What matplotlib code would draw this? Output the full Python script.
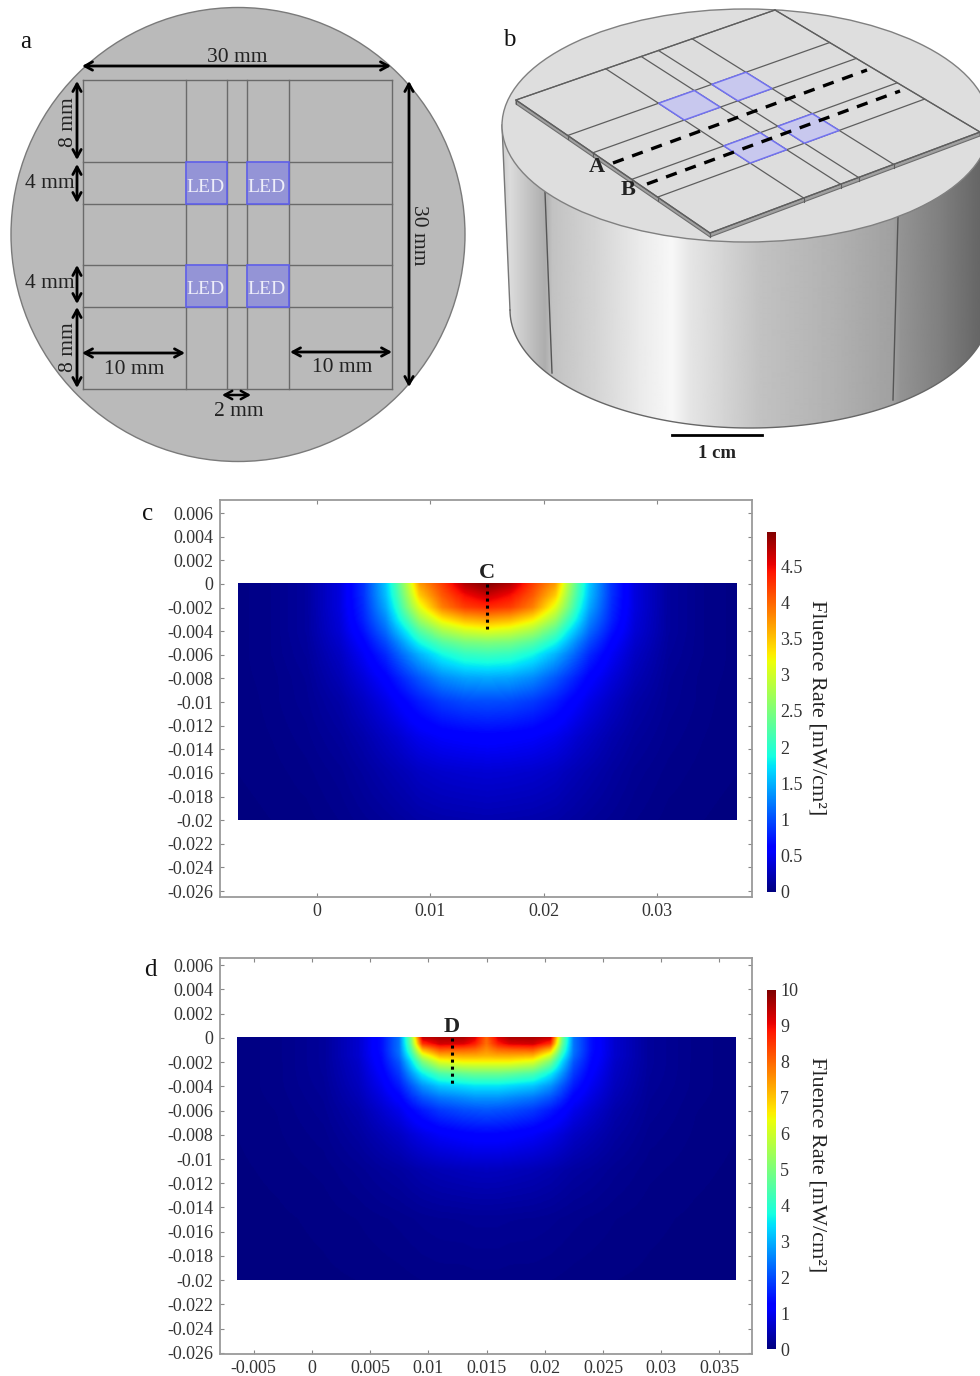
import numpy as np
import matplotlib
matplotlib.use("Agg")
import matplotlib.pyplot as plt
from matplotlib.patches import Circle, Ellipse, Polygon, PathPatch
from matplotlib.path import Path

plt.rcParams['font.family'] = ['Liberation Serif', 'DejaVu Serif']

# plate layout in mm (panel a)
grid_x_mm = [0, 10, 14, 16, 20, 30]
grid_y_mm = [0, 8, 12, 18, 22, 30]
led_x_mm = [(10, 14), (16, 20)]
led_y_mm = [(8, 12), (18, 22)]
# same lines as they fall on the tilted plate of panel b
tilt_u = [0, 10.4, 14.5, 16.5, 20.4, 30]
tilt_v = [0, 8, 11.9, 17.9, 21.9, 30]
tilt_led_u = [(10.4, 14.5), (16.5, 20.4)]
tilt_led_v = [(8, 11.9), (17.9, 21.9)]

# fluence map c, mW/cm2
c_x = [-.007, -.004, -.001, .002, .004, .006, .007, .008, .009, .011, .013, .015,
       .017, .019, .021, .022, .023, .024, .026, .028, .031, .034, .037]
c_depth = [0, -.001, -.002, -.003, -.004, -.005, -.006, -.008, -.010, -.013, -.016, -.020]
c_vals = [
    [.03, .06, .14, .42, .85, 1.6, 2.2, 2.9, 3.7, 4.2, 4.75, 4.95, 4.75, 4.2, 3.7, 2.9, 2.2, 1.6, .85, .42, .14, .06, .03],
    [.03, .06, .14, .42, .85, 1.55, 2.1, 2.75, 3.45, 4.05, 4.45, 4.65, 4.45, 4.05, 3.45, 2.75, 2.1, 1.55, .85, .42, .14, .06, .03],
    [.03, .06, .14, .42, .82, 1.45, 1.95, 2.55, 3.1, 3.85, 4.2, 4.3, 4.2, 3.85, 3.1, 2.55, 1.95, 1.45, .82, .42, .14, .06, .03],
    [.03, .06, .14, .40, .78, 1.3, 1.75, 2.2, 2.7, 3.3, 3.6, 3.7, 3.6, 3.3, 2.7, 2.2, 1.75, 1.3, .78, .40, .14, .06, .03],
    [.03, .06, .14, .38, .70, 1.15, 1.5, 1.85, 2.25, 2.75, 3.0, 3.1, 3.0, 2.75, 2.25, 1.85, 1.5, 1.15, .70, .38, .14, .06, .03],
    [.03, .06, .13, .34, .60, .98, 1.25, 1.55, 1.85, 2.25, 2.45, 2.5, 2.45, 2.25, 1.85, 1.55, 1.25, .98, .60, .34, .13, .06, .03],
    [.03, .06, .12, .30, .52, .82, 1.05, 1.28, 1.5, 1.85, 2.05, 2.1, 2.05, 1.85, 1.5, 1.28, 1.05, .82, .52, .30, .12, .06, .03],
    [.03, .05, .10, .24, .40, .6, .75, .9, 1.05, 1.3, 1.42, 1.45, 1.42, 1.3, 1.05, .9, .75, .6, .40, .24, .10, .05, .03],
    [.02, .05, .09, .18, .3, .45, .55, .65, .75, .9, .98, 1.0, .98, .9, .75, .65, .55, .45, .3, .18, .09, .05, .02],
    [.02, .04, .07, .13, .2, .3, .35, .42, .48, .55, .58, .6, .58, .55, .48, .42, .35, .3, .2, .13, .07, .04, .02],
    [.02, .03, .05, .09, .14, .2, .23, .26, .3, .34, .36, .37, .36, .34, .3, .26, .23, .2, .14, .09, .05, .03, .02],
    [.01, .02, .03, .06, .09, .12, .14, .16, .18, .2, .21, .22, .21, .2, .18, .16, .14, .12, .09, .06, .03, .02, .01],
]

# fluence map d
d_x = [-.0064, -.003, .001, .004, .006, .0075, .0085, .0095, .011, .013, .014, .015,
       .016, .017, .019, .0205, .0215, .0225, .024, .026, .029, .033, .0364]
d_depth = [0, -.0005, -.001, -.0015, -.002, -.003, -.004, -.005, -.006, -.008, -.011, -.015, -.020]
d_vals = [
    [.05, .1, .25, .7, 1.4, 2.4, 5.0, 9.4, 9.6, 9.6, 9.2, 8.0, 9.2, 9.6, 9.6, 9.4, 5.0, 2.4, 1.4, .7, .25, .1, .05],
    [.05, .1, .25, .7, 1.4, 2.4, 4.8, 8.6, 9.3, 9.2, 8.8, 7.9, 8.8, 9.2, 9.3, 8.6, 4.8, 2.4, 1.4, .7, .25, .1, .05],
    [.05, .1, .25, .7, 1.4, 2.4, 4.4, 7.2, 8.2, 8.1, 8.0, 7.6, 8.0, 8.1, 8.2, 7.2, 4.4, 2.4, 1.4, .7, .25, .1, .05],
    [.05, .1, .25, .7, 1.35, 2.3, 3.9, 6.0, 7.2, 7.3, 7.3, 7.2, 7.3, 7.3, 7.2, 6.0, 3.9, 2.3, 1.35, .7, .25, .1, .05],
    [.05, .1, .25, .65, 1.3, 2.1, 3.4, 5.0, 6.2, 6.5, 6.5, 6.5, 6.5, 6.5, 6.2, 5.0, 3.4, 2.1, 1.3, .65, .25, .1, .05],
    [.05, .1, .24, .6, 1.15, 1.8, 2.7, 3.6, 4.4, 4.7, 4.8, 4.8, 4.8, 4.7, 4.4, 3.6, 2.7, 1.8, 1.15, .6, .24, .1, .05],
    [.05, .1, .22, .55, 1.0, 1.5, 2.1, 2.7, 3.2, 3.4, 3.5, 3.5, 3.5, 3.4, 3.2, 2.7, 2.1, 1.5, 1.0, .55, .22, .1, .05],
    [.05, .09, .2, .48, .85, 1.2, 1.65, 2.05, 2.4, 2.6, 2.7, 2.7, 2.7, 2.6, 2.4, 2.05, 1.65, 1.2, .85, .48, .2, .09, .05],
    [.05, .08, .18, .4, .7, .95, 1.25, 1.5, 1.8, 2.0, 2.05, 2.1, 2.05, 2.0, 1.8, 1.5, 1.25, .95, .7, .4, .18, .08, .05],
    [.04, .07, .14, .3, .48, .62, .78, .92, 1.08, 1.2, 1.24, 1.25, 1.24, 1.2, 1.08, .92, .78, .62, .48, .3, .14, .07, .04],
    [.03, .05, .09, .17, .25, .3, .36, .42, .48, .53, .55, .56, .55, .53, .48, .42, .36, .3, .25, .17, .09, .05, .03],
    [.02, .03, .05, .08, .11, .13, .15, .17, .19, .2, .21, .21, .21, .2, .19, .17, .15, .13, .11, .08, .05, .03, .02],
    [.01, .02, .03, .04, .05, .06, .07, .08, .09, .09, .1, .1, .1, .09, .09, .08, .07, .06, .05, .04, .03, .02, .01],
]

y_ticks = [.006, .004, .002, 0, -.002, -.004, -.006, -.008, -.01, -.012, -.014, -.016, -.018, -.02, -.022, -.024, -.026]
y_labels = ['0.006', '0.004', '0.002', '0', '-0.002', '-0.004', '-0.006', '-0.008', '-0.01',
            '-0.012', '-0.014', '-0.016', '-0.018', '-0.02', '-0.022', '-0.024', '-0.026']
c_xticks = [0, .01, .02, .03]
c_xlabels = ['0', '0.01', '0.02', '0.03']
d_xticks = [-.005, 0, .005, .01, .015, .02, .025, .03, .035]
d_xlabels = ['-0.005', '0', '0.005', '0.01', '0.015', '0.02', '0.025', '0.03', '0.035']
c_cbar_ticks = [0, .5, 1, 1.5, 2, 2.5, 3, 3.5, 4, 4.5]
c_cbar_labels = ['0', '0.5', '1', '1.5', '2', '2.5', '3', '3.5', '4', '4.5']
d_cbar_ticks = [0, 1, 2, 3, 4, 5, 6, 7, 8, 9, 10]

# grey level of the cylinder wall across the picture (panel b)
wall_px = [502, 510, 545, 552, 600, 640, 672, 690, 760, 830, 893, 900, 940, 980]
wall_grey = [.80, .86, .68, .76, .84, .92, .97, .90, .76, .70, .63, .58, .50, .40]

W, H = 980, 1376
fig = plt.figure(figsize=(W / 100, H / 100), dpi=100)


def px_axes(x0, y0, x1, y1):
    return fig.add_axes([x0 / W, 1 - y1 / H, (x1 - x0) / W, (y1 - y0) / H])


bg = fig.add_axes([0, 0, 1, 1])
bg.set_xlim(0, W)
bg.set_ylim(H, 0)
bg.axis('off')

TXT = '#222222'

# --- panel a ---
def ax_(mm):
    return 82.5 + 10.3 * mm


def ay_(mm):
    return 80 + 10.3 * mm


bg.add_patch(Circle((238, 234.5), 227, fc='#bababa', ec='#7a7a7a', lw=1))
for m in grid_x_mm:
    bg.plot([ax_(m)] * 2, [ay_(0), ay_(30)], color='#6a6a6a', lw=1, zorder=2)
for m in grid_y_mm:
    bg.plot([ax_(0), ax_(30)], [ay_(m)] * 2, color='#6a6a6a', lw=1, zorder=2)
for xa, xb in led_x_mm:
    for ya, yb in led_y_mm:
        bg.add_patch(Polygon([(ax_(xa), ay_(ya)), (ax_(xb), ay_(ya)), (ax_(xb), ay_(yb)), (ax_(xa), ay_(yb))],
                             fc='#9494d6', ec='#6060ea', lw=1.2, zorder=3))
        bg.text(ax_((xa + xb) / 2) - 1, ay_((ya + yb) / 2) + 4, 'LED', color='#eeeefa', fontsize=14,
                ha='center', va='center', zorder=4)


def arrow(p, q, lw=2.0):
    bg.annotate('', xy=q, xytext=p, zorder=5,
                arrowprops=dict(arrowstyle='<->,head_length=0.55,head_width=0.3', color='black', lw=lw,
                                shrinkA=0, shrinkB=0))


arrow((82, 66), (391, 66))
arrow((409, 81), (409, 387))
arrow((77, 81), (77, 160))
arrow((77, 164), (77, 203))
arrow((77, 265), (77, 304))
arrow((77, 307), (77, 388))
arrow((82, 353), (185, 353))
arrow((290, 352), (392, 352))
arrow((222, 395), (251, 395), lw=1.8)

for (x, y, s, r) in [(237, 58, '30 mm', 0), (418, 235, '30 mm', 270), (68, 122, '8 mm', 90),
                     (50, 183, '4 mm', 0), (50, 284, '4 mm', 0), (68, 347, '8 mm', 90),
                     (134, 370, '10 mm', 0), (342, 368, '10 mm', 0), (239, 411, '2 mm', 0)]:
    bg.text(x, y, s, fontsize=15.5, color=TXT, ha='center', va='center', rotation=r, zorder=6)

# --- panel b ---
wall_x = np.arange(502, 981)
wall = np.interp(wall_x, wall_px, wall_grey)[None, :]
im = bg.imshow(wall, cmap='gray', vmin=0, vmax=1, extent=(502, 981, 440, 100), aspect='auto', zorder=1,
               interpolation='bilinear')
t = np.linspace(np.pi, 0, 120)
rim = [(750 + 240 * np.cos(a), 310 + 118 * np.sin(a)) for a in t]
outline = [(502, 125)] + rim + [(990, 125)]
wall_path = PathPatch(Path(outline + [outline[0]]), fc='none', ec='none', transform=bg.transData)
bg.add_patch(wall_path)
im.set_clip_path(wall_path)
bg.plot([502, 510], [125, 310], color='#777777', lw=1, zorder=2)
bg.plot(*zip(*rim), color='#666666', lw=1, zorder=2)
bg.plot([545, 552], [192, 373], color='#555555', lw=1, zorder=2)
bg.plot([898, 893], [217, 400], color='#555555', lw=1, zorder=2)
bg.add_patch(Ellipse((746, 125.5), 488, 233, fc='#dedede', ec='#808080', lw=1, zorder=3))

# plate corners on the picture: left, top, right, bottom
pL, pT, pR, pB = np.array([516, 100.]), np.array([775, 10.]), np.array([980, 132.]), np.array([710, 233.])


def plate(u, v):
    a, b = u / 30, v / 30
    return tuple((1 - a) * (1 - b) * pL + a * (1 - b) * pT + a * b * pR + (1 - a) * b * pB)


# plate thickness along the two front edges
drop = np.array([0, 4.])
bg.add_patch(Polygon([pL, pB, pR, pR + drop, pB + drop, pL + drop], fc='#a0a0a0', ec='#6e6e6e', lw=.8, zorder=4))
bg.add_patch(Polygon([pL, pT, pR, pB], fc='#dddddd', ec='#666666', lw=.9, zorder=4))
for m in tilt_u:
    bg.plot(*zip(plate(m, 0), plate(m, 30)), color='#5e5e5e', lw=.9, zorder=5)
    bg.plot(*zip(plate(m, 30), np.array(plate(m, 30)) + drop), color='#5e5e5e', lw=.8, zorder=5)
for m in tilt_v:
    bg.plot(*zip(plate(0, m), plate(30, m)), color='#5e5e5e', lw=.9, zorder=5)
    bg.plot(*zip(plate(0, m), np.array(plate(0, m)) + drop), color='#5e5e5e', lw=.8, zorder=5)
for ua, ub in tilt_led_u:
    for va, vb in tilt_led_v:
        bg.add_patch(Polygon([plate(ua, va), plate(ub, va), plate(ub, vb), plate(ua, vb)],
                             fc='#c8c8ee', ec='#7272f0', lw=1.1, zorder=6))

bg.plot([613, 867], [163, 70], color='black', lw=2.4, ls=(0, (3.4, 2.7)), zorder=7)
bg.plot([647, 900], [184, 91], color='black', lw=2.4, ls=(0, (3.4, 2.7)), zorder=7)
bg.text(597, 167, 'A', fontsize=16, fontweight='bold', color=TXT, ha='center', va='center', zorder=8)
bg.text(628, 190, 'B', fontsize=16, fontweight='bold', color=TXT, ha='center', va='center', zorder=8)
bg.plot([672, 762], [435, 435], color='black', lw=2)
bg.text(717, 453, '1 cm', fontsize=13.5, fontweight='bold', color=TXT, ha='center', va='center')

# panel letters
for (x, y, s) in [(26, 42, 'a'), (509, 40, 'b'), (148, 514, 'c'), (150, 970, 'd')]:
    bg.text(x, y, s, fontsize=18, color='#111111', ha='center', va='center')


# --- panels c and d ---
def upsample(xs, ds, vals, nx=500, ny=240):
    vals = np.array(vals, dtype=float)
    x_new = np.linspace(xs[0], xs[-1], nx)
    d_new = np.linspace(ds[0], ds[-1], ny)
    rows = np.array([np.interp(x_new, xs, r) for r in vals])
    return np.array([np.interp(-d_new, -np.array(ds), rows[:, i]) for i in range(nx)]).T


def field_panel(box, xlim, ylim, xs, ds, vals, vmax, xticks, xlabels, mark_x, mark):
    ax = px_axes(*box)
    ax.imshow(upsample(xs, ds, vals), cmap='jet', vmin=0, vmax=vmax, aspect='auto',
              extent=(xs[0], xs[-1], ds[-1], ds[0]), origin='upper', interpolation='bilinear')
    ax.set_xlim(*xlim)
    ax.set_ylim(*ylim)
    ax.set_xticks(xticks, xlabels)
    ax.set_yticks(y_ticks, y_labels)
    ax.tick_params(axis='both', direction='in', length=3, width=.8, color='#888888', labelsize=13,
                   labelcolor='#333333', top=True, right=True, pad=5)
    ax.tick_params(axis='x', pad=4)
    for s in ax.spines.values():
        s.set_color('#9a9a9a')
        s.set_linewidth(1.3)
    ax.plot([mark_x, mark_x], [0, -.0038], color='black', lw=2.2, ls=(0, (1, 1.3)))
    ax.text(mark_x, .0009, mark, fontsize=16, fontweight='bold', color=TXT, ha='center', va='center')
    return ax


def colourbar(box, vmax, ticks, labels, ymid):
    cax = px_axes(*box)
    cax.imshow(np.linspace(vmax, 0, 256)[:, None], cmap='jet', vmin=0, vmax=vmax, aspect='auto',
               extent=(0, 1, 0, vmax))
    cax.set_xticks([])
    cax.yaxis.tick_right()
    cax.set_yticks(ticks, labels)
    cax.tick_params(axis='y', length=0, labelsize=13, labelcolor='#333333', pad=3)
    for s in cax.spines.values():
        s.set_visible(False)
    bg.text(817, ymid, 'Fluence Rate [mW/cm²]', fontsize=16, color=TXT, rotation=270,
            ha='center', va='center')


field_panel((220, 500, 752, 897), (-.00856, .03838), (-.0265, .00711), c_x, c_depth, c_vals, 4.97,
            c_xticks, c_xlabels, .015, 'C')
colourbar((767, 532, 776, 892), 4.97, c_cbar_ticks, c_cbar_labels, 708)

field_panel((220, 958, 752, 1354), (-.00790, .03780), (-.0261, .0066), d_x, d_depth, d_vals, 10,
            d_xticks, d_xlabels, .01203, 'D')
colourbar((767, 990, 776, 1349), 10, d_cbar_ticks, [str(v) for v in d_cbar_ticks], 1165)

fig.savefig('out.png', dpi=100)
